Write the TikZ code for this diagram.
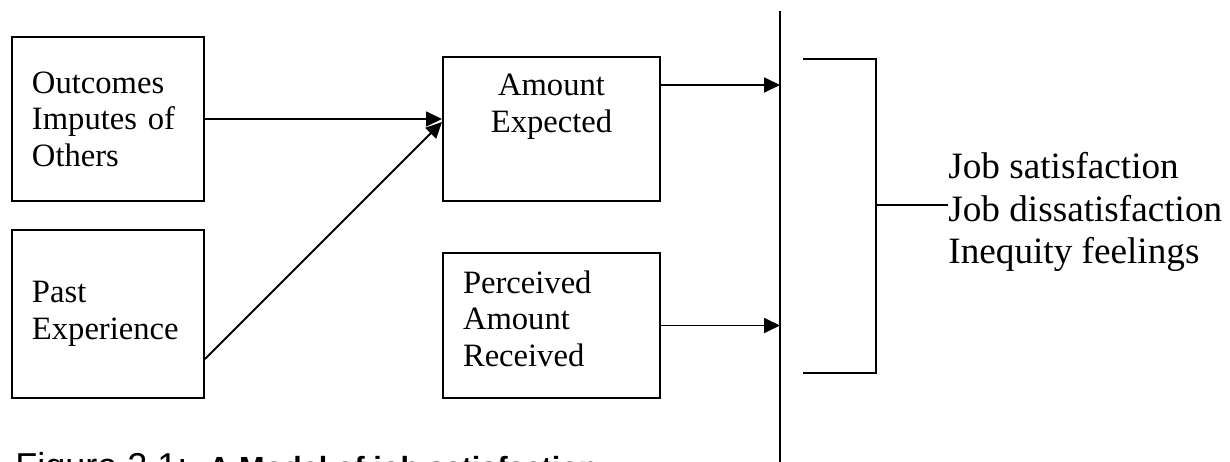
\documentclass[tikz,border=0pt]{standalone}
\usepackage{fontspec}
\setmainfont{Liberation Serif}
\newfontfamily\capfont{Liberation Sans}
\usetikzlibrary{arrows.meta, positioning, calc}

\begin{document}
\begin{tikzpicture}[
    x=0.5pt, y=-0.5pt,
    box/.style={draw, line width=1pt, inner xsep=10pt, inner ysep=0pt, anchor=center,
      font=\fontsize{16.3pt}{18.3pt}\selectfont},
    arr/.style={-{Triangle[length=8pt, width=7.5pt]}, line width=0.9pt},
    bar/.style={line width=1pt},
  ]
  \useasboundingbox (0,0) rectangle (1230,461);
  % input boxes
  \node[box, minimum width=96pt, minimum height=82pt, text width=76pt, align=left]
    (others) at (108,119) {Outcomes\\Imputes of\\Others};
  \node[box, minimum width=96pt, minimum height=84pt, text width=76pt, align=left]
    (past) at (108,314) {Past\\Experience};
  \node[box, minimum width=108.5pt, minimum height=72pt, text width=88.5pt, align=center]
    (expected) at (551.5,129) {Amount\\Expected\\[7.4pt]\mbox{}};
  \node[box, minimum width=108.5pt, minimum height=72.5pt, text width=88.5pt, align=left]
    (received) at (551.5,325.5) {Perceived\\Amount\\Received\\[-11.3pt]\mbox{}};
  % comparison bar and bracket
  \coordinate (bartop) at (780,11);
  \coordinate (barbot) at (780,470);
  \draw[bar] (bartop) -- (barbot);
  \coordinate (brtop) at (803,59);
  \coordinate (brmid) at (876,205);
  \coordinate (brbot) at (803,373);
  \draw[line width=0.8pt] (brtop) -| (brmid) |- (brbot);
  % outcomes
  \node[inner sep=0pt, anchor=west, align=left, font=\fontsize{18.6pt}{21.3pt}\selectfont]
    (outcome) at (948,212) {Job satisfaction\\Job dissatisfaction\\Inequity feelings};
  \draw[line width=0.8pt] (brmid) -- (brmid -| outcome.west);
  % arrows
  \coordinate (pastout) at ($(past.south east)+(0,-40)$);
  \coordinate (expout) at ($(expected.north east)+(0,29)$);
  \draw[arr] (others.east) -- (others.east -| expected.west);
  \draw[arr] (pastout) -- ($(others.east -| expected.west)+(0,3)$);
  \draw[arr] (expout) -- (expout -| bartop);
  \draw[arr] (received.east) -- (received.east -| bartop);
  % caption (cut at the page edge)
  \node[inner sep=0pt, anchor=base west, font=\capfont\fontsize{18pt}{21pt}\selectfont]
    (caption) at (15,478) {Figure 2.1:\hspace{10.5pt}{\fontsize{15.3pt}{18pt}\selectfont\bfseries A Model of job satisfaction}};
\end{tikzpicture}
\end{document}
